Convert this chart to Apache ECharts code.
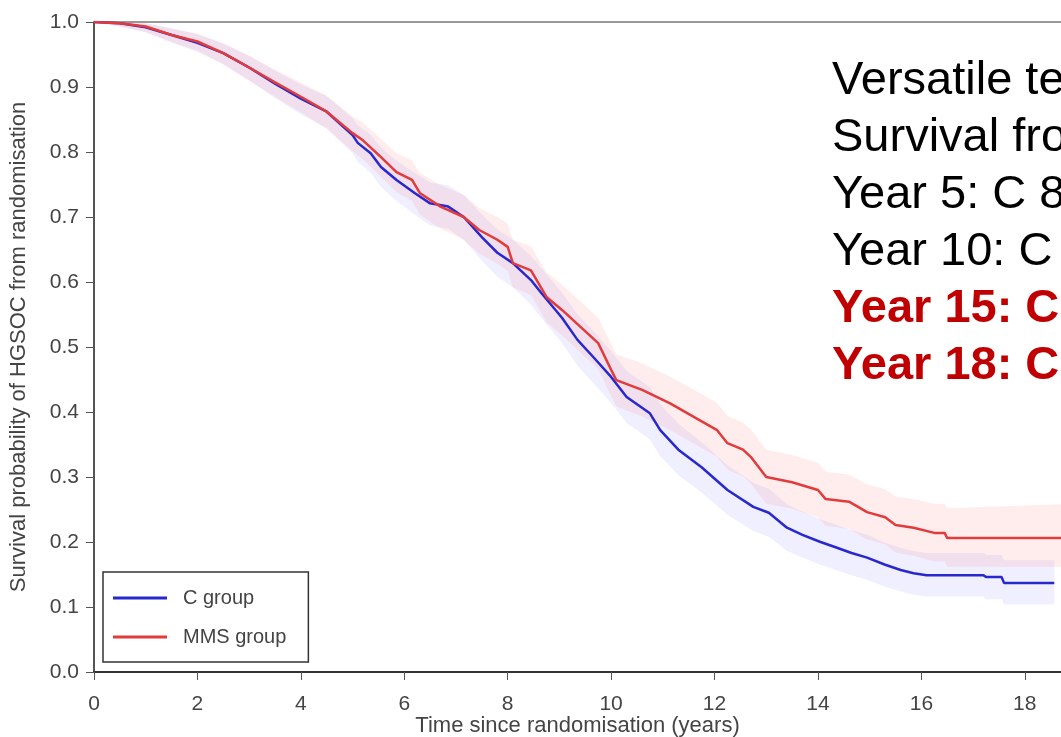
<!DOCTYPE html>
<html>
<head>
<meta charset="utf-8">
<script src="https://cdn.jsdelivr.net/npm/echarts@6/dist/echarts.min.js"></script>
<style>
    html, body { margin: 0; padding: 0; background: #fff; }
    #chart { width: 1061px; height: 737px; }
</style>
</head>
<body>
<div id="chart"></div>
<script>
// C group: time (years), survival, lower and upper CI
const timeC = [0, 0.5, 1, 1.5, 2, 2.5, 3, 3.5, 4, 4.5, 5, 5.1, 5.35, 5.55, 5.85, 6.2, 6.5, 6.85, 7.15, 7.5,
    7.8, 8.1, 8.45, 8.65, 9.05, 9.35, 9.65, 10, 10.3, 10.75, 10.95, 11.3, 11.75, 12.25, 12.75, 13.05, 13.4, 13.7, 14.05, 14.3,
    14.65, 14.95, 15.3, 15.6, 15.85, 16.1, 17.2, 17.25, 17.55, 17.6, 18.57];
const survC = [1, .998, .992, .98, .968, .952, .93, .905, .882, .862, .826, .814, .798, .777, .757, .737, .721, .716, .7, .669,
    .645, .629, .603, .583, .545, .511, .485, .454, .423, .398, .372, .342, .315, .28, .254, .245, .222, .211, .2, .193,
    .183, .176, .165, .157, .152, .149, .149, .146, .146, .137, .137];
const lowC = [1, .993, .984, .969, .954, .935, .91, .883, .858, .836, .798, .785, .768, .746, .725, .704, .687, .682, .665, .633,
    .608, .592, .565, .545, .506, .471, .445, .414, .383, .358, .332, .303, .276, .242, .217, .208, .186, .176, .165, .158,
    .149, .142, .131, .124, .119, .116, .116, .112, .112, .104, .104];
const highC = [1, 1, .998, .99, .981, .967, .948, .925, .904, .886, .852, .841, .826, .806, .787, .768, .753, .749, .734, .704,
    .681, .665, .64, .621, .584, .55, .525, .494, .463, .438, .412, .382, .354, .318, .291, .282, .258, .247, .235, .228,
    .218, .211, .199, .191, .186, .183, .183, .18, .18, .172, .172];

// MMS group
const timeM = [0, 0.5, 1, 1.5, 2, 2.5, 3, 3.5, 4, 4.5, 5, 5.2, 5.55, 5.85, 6.15, 6.3, 6.7, 7.15, 7.45, 7.8,
    8, 8.1, 8.45, 8.75, 9.05, 9.45, 9.75, 10, 10.1, 10.6, 11.15, 11.7, 12.05, 12.25, 12.55, 12.7, 13, 13.5, 14, 14.15,
    14.6, 14.95, 15.3, 15.5, 15.85, 16.25, 16.45, 16.5, 18.7];
const survM = [1, .998, .993, .98, .97, .952, .93, .907, .885, .862, .829, .818, .792, .769, .757, .737, .716, .7, .68, .665,
    .654, .629, .618, .577, .557, .528, .506, .465, .449, .434, .413, .388, .372, .352, .342, .331, .3, .292, .28, .266,
    .262, .246, .238, .226, .222, .214, .214, .206, .206];
const lowM = [1, .993, .985, .969, .956, .935, .91, .885, .861, .836, .801, .789, .762, .738, .725, .704, .682, .665, .644, .628,
    .617, .592, .58, .538, .518, .488, .466, .425, .409, .393, .372, .347, .331, .311, .301, .29, .259, .251, .238, .225,
    .22, .204, .196, .184, .179, .17, .17, .162, .162];
const highM = [1, 1, .998, .99, .982, .967, .948, .927, .907, .886, .855, .845, .82, .798, .787, .768, .749, .734, .714, .7,
    .69, .665, .655, .615, .596, .567, .545, .505, .489, .475, .454, .43, .414, .394, .384, .373, .342, .334, .322, .308,
    .304, .289, .281, .27, .266, .259, .259, .252, .258];

const xTicks = [0, 2, 4, 6, 8, 10, 12, 14, 16, 18];
const yTicks = [0, 0.1, 0.2, 0.3, 0.4, 0.5, 0.6, 0.7, 0.8, 0.9, 1.0];

const noteLines = [
    "Versatile te",
    "Survival fro",
    "Year 5: C 8",
    "Year 10: C",
    "Year 15: C",
    "Year 18: C"
];

const colorBlue = "#2828cc";
const colorRed = "#e23b3b";
const colorAxis = "#444";
const font = "Arial, 'Liberation Sans', sans-serif";

function pairs(xs, ys) {
    return xs.map((x, i) => [x, ys[i]]);
}

/**
 * Полоса доверительного интервала одним полигоном
 */
function bandSeries(xs, lo, hi, fill) {
    return {
        type: "custom",
        silent: true,
        clip: true,
        data: xs.map((x, i) => [x, lo[i], hi[i]]),
        encode: { x: 0, y: [1, 2] },
        renderItem: (params, api) => {
            if (params.dataIndex !== 0) return;
            const upper = xs.map((x, i) => api.coord([x, hi[i]]));
            const lower = xs.map((x, i) => api.coord([x, lo[i]])).reverse();
            return {
                type: "polygon",
                shape: { points: upper.concat(lower) },
                style: { fill: fill }
            };
        }
    };
}

const chart = echarts.init(document.getElementById("chart"));

chart.setOption({
    animation: false,
    backgroundColor: "#fff",
    textStyle: { fontFamily: font },
    grid: { left: 94, right: 0, top: 22, bottom: 65, outerBoundsMode: "none" },
    legend: {
        data: ["C group", "MMS group"],
        orient: "vertical",
        left: 103,
        top: 572,
        icon: "rect",
        itemWidth: 54,
        itemHeight: 3,
        itemGap: 19,
        padding: [16, 22, 15, 10],
        borderColor: "#333",
        borderWidth: 1.5,
        textStyle: { fontSize: 20, color: colorAxis, padding: [0, 0, 0, 11] }
    },
    xAxis: [
        {
            type: "value",
            min: 0,
            max: 18.7,
            name: "Time since randomisation (years)",
            nameLocation: "middle",
            nameGap: 43,
            nameMoveOverlap: false,
            nameTextStyle: { fontSize: 22, color: colorAxis },
            axisLine: { lineStyle: { color: "#333", width: 2 } },
            axisTick: { length: 8, lineStyle: { color: "#555" }, customValues: xTicks },
            axisLabel: { fontSize: 21, color: colorAxis, margin: 22, customValues: xTicks },
            splitLine: { show: false }
        },
        {
            type: "value",
            position: "top",
            min: 0,
            max: 18.7,
            axisLine: { show: true, lineStyle: { color: "#999", width: 2 } },
            axisTick: { show: false },
            axisLabel: { show: false },
            splitLine: { show: false }
        }
    ],
    yAxis: {
        type: "value",
        min: 0,
        max: 1,
        interval: 0.1,
        name: "Survival probability of HGSOC from randomisation",
        nameLocation: "middle",
        nameGap: 64,
        nameMoveOverlap: false,
        nameTextStyle: { fontSize: 22, color: colorAxis },
        axisLine: { show: true, lineStyle: { color: "#555", width: 2 } },
        axisTick: { show: true, length: 8, lineStyle: { color: "#555" }, customValues: yTicks },
        axisLabel: {
            fontSize: 21,
            color: colorAxis,
            margin: 15,
            customValues: yTicks,
            formatter: v => v.toFixed(1)
        },
        splitLine: { show: false }
    },
    series: [
        bandSeries(timeC, lowC, highC, "rgba(120,120,255,0.12)"),
        bandSeries(timeM, lowM, highM, "rgba(255,110,110,0.12)"),
        {
            name: "C group",
            type: "line",
            symbol: "none",
            lineStyle: { color: colorBlue, width: 2.5 },
            itemStyle: { color: colorBlue },
            data: pairs(timeC, survC)
        },
        {
            name: "MMS group",
            type: "line",
            symbol: "none",
            lineStyle: { color: colorRed, width: 2.5 },
            itemStyle: { color: colorRed },
            data: pairs(timeM, survM)
        }
    ],
    graphic: noteLines.map((line, i) => ({
        type: "text",
        left: 832,
        top: 58 + i * 57,
        z: 100,
        style: {
            text: line,
            font: (i >= 4 ? "bold " : "") + "47px Arial, 'Liberation Sans', sans-serif",
            fill: i >= 4 ? "#c00000" : "#000"
        }
    }))
});
</script>
</body>
</html>
